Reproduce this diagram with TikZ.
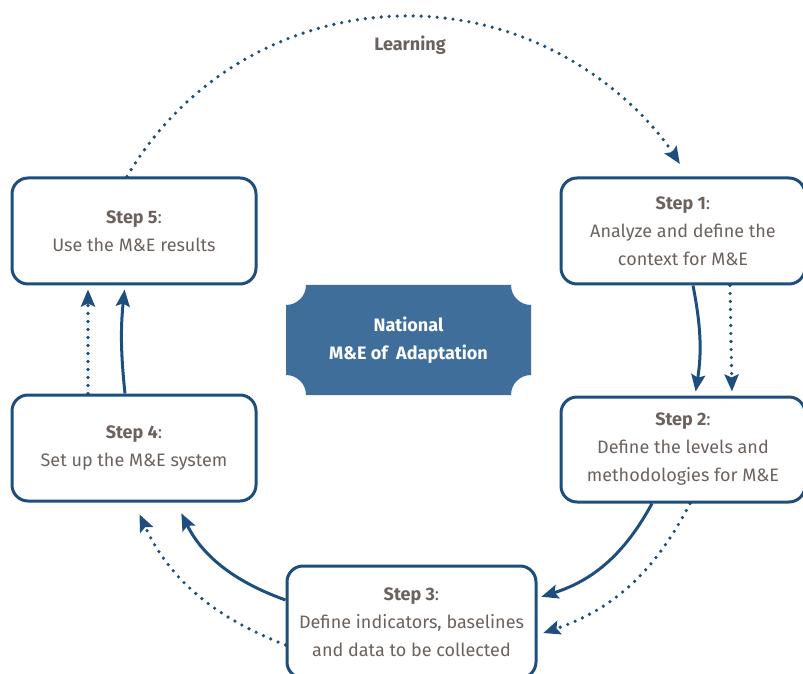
\documentclass[tikz,border=0pt]{standalone}
\usepackage{fontspec}
\setmainfont{Fira Sans}
\usetikzlibrary{arrows.meta, positioning}
\definecolor{meblue}{HTML}{1D4E7E}
\definecolor{hubfill}{HTML}{3F6E9B}
\definecolor{stepgrey}{HTML}{6B625D}

\begin{document}
\begin{tikzpicture}[x=1pt, y=1pt, >={Stealth[length=17pt, width=14pt, inset=3pt]},
  stepbox/.style={draw=meblue, line width=3pt, rounded corners=16pt, minimum width=244pt, minimum height=106pt, align=center, text=stepgrey, font=\fontsize{18}{28}\selectfont},
  hub/.style={minimum width=245pt, minimum height=110pt, align=center, text=white, font=\fontsize{18}{28}\selectfont\bfseries,
    path picture={\fill[hubfill] ([xshift=20pt]path picture bounding box.south west) -- ([xshift=-20pt]path picture bounding box.south east)
      arc[start angle=180, end angle=90, radius=20pt] -- ([yshift=-20pt]path picture bounding box.north east)
      arc[start angle=270, end angle=180, radius=20pt] -- ([xshift=20pt]path picture bounding box.north west)
      arc[start angle=0, end angle=-90, radius=20pt] -- ([yshift=20pt]path picture bounding box.south west)
      arc[start angle=90, end angle=0, radius=20pt] -- cycle;}},
  flow/.style={->, draw=meblue, line width=3pt},
  loop/.style={->, draw=meblue, line width=3.6pt, line cap=round, dash pattern=on 0pt off 8pt}]

  \useasboundingbox (0,0) rectangle (803,673);

  \node[hub] (hub) at (408.5,333) {National\\M\&E of~ Adaptation};

  \node[stepbox] (s1) at (683,442) {\textbf{Step 1}:\\Analyze and define the\\context for M\&E};
  \node[stepbox, minimum height=105pt] (s2) at (683,223.5) {\textbf{Step 2}:\\Define the levels and\\methodologies for M\&E};
  \node[stepbox, minimum width=249pt, minimum height=112pt] (s3) at (411.5,51) {\textbf{Step 3}:\\Define indicators, baselines\\and data to be collected};
  \node[stepbox] (s4) at (134,225) {\textbf{Step 4}:\\Set up the M\&E system};
  \node[stepbox] (s5) at (134,442) {\textbf{Step 5}:\\Use the M\&E results};

  \node[text=stepgrey, font=\fontsize{18}{20}\selectfont\bfseries] (learning) at (410,628) {Learning};

  % step to step
  \draw[flow, shorten >=4pt] ([xshift=10pt]s1.south) to[bend left=10] ([xshift=12pt]s2.north);
  \draw[loop, shorten >=4pt] ([xshift=47pt]s1.south) -- ([xshift=49pt]s2.north);
  \draw[flow, shorten >=4pt] ([xshift=-31pt]s2.south) to[bend left=22] ([yshift=24pt]s3.east);
  \draw[loop, shorten >=6pt] ([xshift=7pt]s2.south) to[bend left=22] ([yshift=-13pt]s3.east);
  \draw[flow, shorten >=12pt] ([yshift=22pt]s3.west) to[bend left=22] ([xshift=42pt]s4.south);
  \draw[loop, shorten >=13pt] ([yshift=-23pt]s3.west) to[bend left=22] (s4.south);
  \draw[flow, shorten >=4pt] ([xshift=-9pt]s4.north) to[bend left=6] ([xshift=-9pt]s5.south);
  \draw[loop, shorten >=4pt] ([xshift=-46pt]s4.north) -- ([xshift=-46pt]s5.south);

  % learning loop
  \draw[loop] ([xshift=-7pt]s5.north) arc[start angle=149.6, end angle=33, radius=325pt];
\end{tikzpicture}
\end{document}
